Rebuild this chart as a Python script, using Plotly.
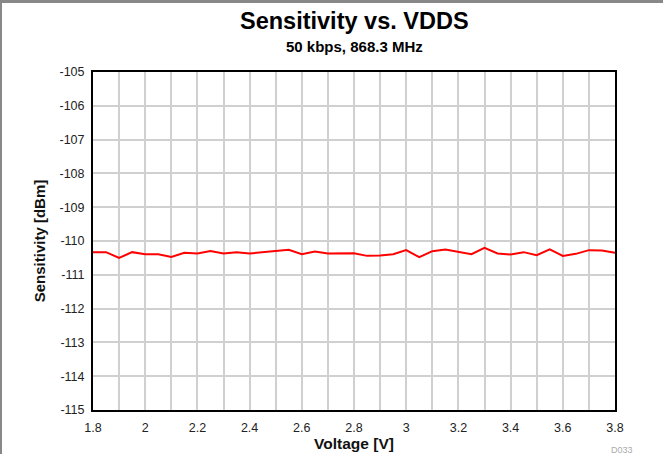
import plotly.graph_objects as go

voltage = [1.8, 1.85, 1.9, 1.95, 2.0, 2.05, 2.1, 2.15, 2.2, 2.25, 2.3, 2.35, 2.4, 2.45, 2.5, 2.55,
           2.6, 2.65, 2.7, 2.75, 2.8, 2.85, 2.9, 2.95, 3.0, 3.05, 3.1, 3.15, 3.2, 3.25, 3.3, 3.35,
           3.4, 3.45, 3.5, 3.55, 3.6, 3.65, 3.7, 3.75, 3.8]
sensitivity = [-110.33, -110.33, -110.50, -110.33, -110.39, -110.39, -110.47, -110.35, -110.37, -110.30,
               -110.37, -110.33, -110.37, -110.33, -110.29, -110.26, -110.39, -110.31, -110.37, -110.36,
               -110.36, -110.44, -110.43, -110.39, -110.27, -110.48, -110.30, -110.25, -110.31, -110.39,
               -110.20, -110.37, -110.40, -110.33, -110.42, -110.25, -110.44, -110.38, -110.27, -110.28,
               -110.35]
y_tick_vals = [-115, -114, -113, -112, -111, -110, -109, -108, -107, -106, -105]
y_tick_text = ["-115", "-114", "-113", "-112", "-111", "-110", "-109", "-108", "-107", "-106", "-105"]
x_tick_vals = [1.8, 2.0, 2.2, 2.4, 2.6, 2.8, 3.0, 3.2, 3.4, 3.6, 3.8]
x_tick_text = ["1.8", "2", "2.2", "2.4", "2.6", "2.8", "3", "3.2", "3.4", "3.6", "3.8"]

W, H = 663, 454
L, R, T, B = 93, 48, 72, 44
pw, ph = W - L - R, H - T - B

fig = go.Figure()
fig.add_trace(go.Scatter(x=voltage, y=sensitivity, mode="lines",
                         line=dict(color="#ff0000", width=2), showlegend=False))

font = "Liberation Sans, Arial, sans-serif"
fig.update_layout(
    width=W, height=H, autosize=False,
    margin=dict(l=L, r=R, t=T, b=B, autoexpand=False),
    paper_bgcolor="white", plot_bgcolor="white",
    font=dict(family=font, size=12, color="#222"),
    xaxis=dict(range=[1.8, 3.8], tickvals=x_tick_vals, ticktext=x_tick_text, automargin=False,
               showgrid=True, gridcolor="#d0d0d0", gridwidth=1.5,
               minor=dict(dtick=0.1, tick0=1.8, showgrid=True, gridcolor="#d0d0d0", gridwidth=1.5),
               showline=True, linecolor="black", linewidth=2, mirror=True, zeroline=False,
               ticks="", tickfont=dict(size=12.5, color="#222"), ticklabelstandoff=5,
               title=dict(text="<b>Voltage [V]</b>", font=dict(size=15.5, color="#111"), standoff=3)),
    yaxis=dict(range=[-115, -105], tickvals=y_tick_vals, ticktext=y_tick_text, automargin=False,
               showgrid=True, gridcolor="#d0d0d0", gridwidth=1.5,
               showline=True, linecolor="black", linewidth=2, mirror=True, zeroline=False,
               ticks="", tickfont=dict(size=12.5, color="#222"), ticklabelstandoff=4,
               title=dict(text="<b>Sensitivity [dBm]</b>", font=dict(size=15, color="#111"), standoff=10)),
    annotations=[
        dict(text="<b>Sensitivity vs. VDDS</b>", xref="paper", yref="paper",
             x=0.5, y=1 + (T - 21) / ph, yanchor="middle", showarrow=False,
             font=dict(size=23.5, color="black")),
        dict(text="<b>50 kbps, 868.3 MHz</b>", xref="paper", yref="paper",
             x=0.5, y=1 + (T - 47) / ph, yanchor="middle", showarrow=False,
             font=dict(size=15, color="black")),
        dict(text="D033", xref="paper", yref="paper",
             x=(622 - L) / pw, y=-(450 - T - ph) / ph, xanchor="center", yanchor="middle",
             showarrow=False, font=dict(size=9, color="#aaa")),
    ],
)

post = (
    "document.body.style.margin='0';document.body.style.overflow='hidden';"
    "var o=document.createElement('div');"
    "o.style.cssText='position:fixed;left:0;top:0;width:663px;height:454px;box-sizing:border-box;"
    "border-top:3px solid #888;border-left:2px solid #888;pointer-events:none;z-index:1000;';"
    "document.body.appendChild(o);"
)
fig.write_html("out.html", config={"displayModeBar": False, "responsive": False}, post_script=post)
